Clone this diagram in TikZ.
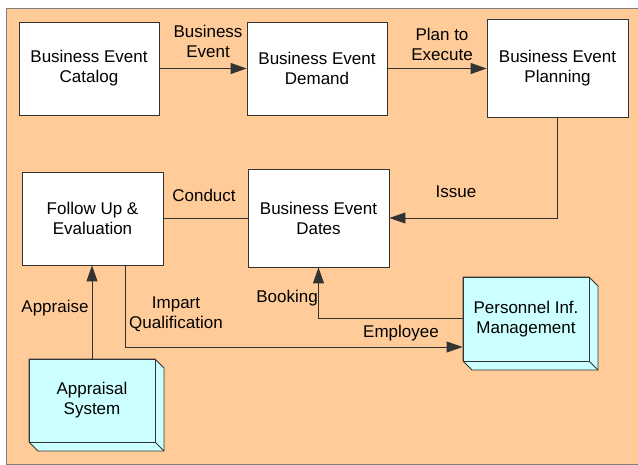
\documentclass[tikz,border=0pt]{standalone}
\usepackage{fontspec}
\setmainfont{Liberation Sans}
\usetikzlibrary{arrows.meta}
\definecolor{bgorange}{HTML}{FFCC99}
\definecolor{cyanbox}{HTML}{CCFFFF}
\definecolor{edgegray}{HTML}{333333}
\tikzset{
  proc/.style={draw=edgegray, line width=0.9pt, fill=white, align=center, inner sep=0pt, font=\fontsize{17}{20}\selectfont},
  ext/.style={draw=edgegray, line width=0.9pt, fill=cyanbox, align=center, inner sep=0pt, font=\fontsize{17}{20}\selectfont},
  lbl/.style={align=center, inner sep=0pt, font=\fontsize{17}{20}\selectfont},
  conn/.style={draw=edgegray, line width=0.9pt},
  arr/.style={conn, -{Triangle[length=16pt,width=11pt]}},
}
\begin{document}
\begin{tikzpicture}[x=1pt,y=-1pt]
\useasboundingbox (0,0) rectangle (638,465);
\fill[white] (0,0) rectangle (638,465);
\filldraw[fill=bgorange, draw=gray, line width=1pt] (6,9) rectangle (660,464);

\node[proc, minimum width=140, minimum height=93] (cat) at (89,68.5) {Business Event\\Catalog};
\node[proc, minimum width=140, minimum height=93] (dem) at (317,68.5) {Business Event\\Demand};
\node[proc, minimum width=141, minimum height=98] (plan) at (557.5,68) {Business Event\\Planning};
\node[proc, minimum width=141, minimum height=93] (fu) at (92.5,218.5) {Follow Up \&\\Evaluation};
\node[proc, minimum width=141, minimum height=98] (dates) at (318.5,218) {Business Event\\Dates};

% 3D boxes
\filldraw[fill=cyanbox, draw=edgegray, line width=0.9pt] (29,359) -- (155,359) -- (164,368) -- (164,451) -- (38,451) -- (29,442) -- cycle;
\draw[edgegray, line width=0.9pt] (155,442) -- (164,451);
\node[ext, minimum width=126, minimum height=83] (ap) at (92,400.5) {Appraisal\\System};
\filldraw[fill=cyanbox, draw=edgegray, line width=0.9pt] (463,277) -- (589,277) -- (598,286) -- (598,370) -- (472,370) -- (463,361) -- cycle;
\draw[edgegray, line width=0.9pt] (589,361) -- (598,370);
\node[ext, minimum width=126, minimum height=84] (pim) at (526,319) {Personnel Inf.\\Management};

% connectors
\draw[arr] (cat.east) -- (dem.west);
\draw[arr] (dem.east) -- (dem.east -| plan.west);
\draw[arr] (plan.south) |- (dates.east);
\draw[conn] (dates.west) -- (dates.west -| fu.east);
\draw[arr] (ap.north) -- (ap.north |- fu.south);
\coordinate (imp) at ([xshift=32.5pt]fu.south);
\draw[arr] (imp) |- ([yshift=-28pt]pim.west);
\draw[arr] ([yshift=1pt]pim.west) -| (dates.south);

% labels
\node[lbl] (l1) at (208,41) {Business\\Event};
\node[lbl] (l2) at (442,44) {Plan to\\Execute};
\node[lbl] (l3) at (456,192) {Issue};
\node[lbl] (l4) at (204,195) {Conduct};
\node[lbl] (l5) at (55,308) {Appraise};
\node[lbl] (l6) at (176,314) {Impart\\Qualification};
\node[lbl] (l7) at (401,333) {Employee};
\node[lbl] (l8) at (287,298) {Booking};
\end{tikzpicture}
\end{document}
